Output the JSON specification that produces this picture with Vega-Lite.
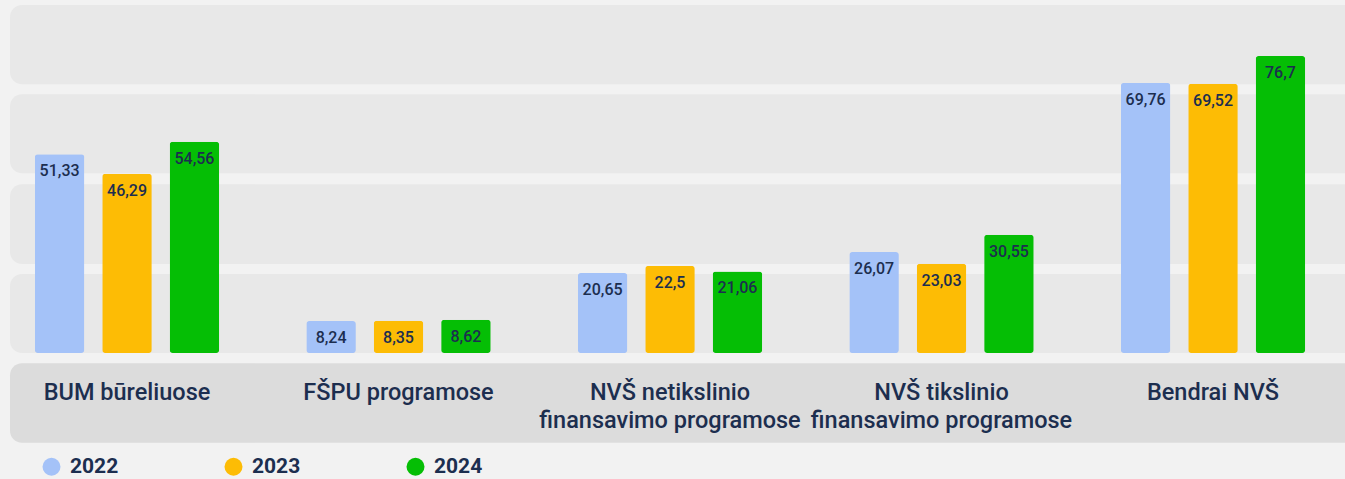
{
  "$schema": "https://vega.github.io/schema/vega-lite/v6.json",
  "width": 1335,
  "height": 479,
  "autosize": "none",
  "padding": {"left": 10, "right": 0, "top": 0, "bottom": 0},
  "background": "#f2f2f2",
  "datasets": {
    "values": [
      {"category": "BUM būreliuose", "year": "2022", "value": 51.33},
      {"category": "BUM būreliuose", "year": "2023", "value": 46.29},
      {"category": "BUM būreliuose", "year": "2024", "value": 54.56},
      {"category": "FŠPU programose", "year": "2022", "value": 8.24},
      {"category": "FŠPU programose", "year": "2023", "value": 8.35},
      {"category": "FŠPU programose", "year": "2024", "value": 8.62},
      {"category": "NVŠ netikslinio\nfinansavimo programose", "year": "2022", "value": 20.65},
      {"category": "NVŠ netikslinio\nfinansavimo programose", "year": "2023", "value": 22.5},
      {"category": "NVŠ netikslinio\nfinansavimo programose", "year": "2024", "value": 21.06},
      {"category": "NVŠ tikslinio\nfinansavimo programose", "year": "2022", "value": 26.07},
      {"category": "NVŠ tikslinio\nfinansavimo programose", "year": "2023", "value": 23.03},
      {"category": "NVŠ tikslinio\nfinansavimo programose", "year": "2024", "value": 30.55},
      {"category": "Bendrai NVŠ", "year": "2022", "value": 69.76},
      {"category": "Bendrai NVŠ", "year": "2023", "value": 69.52},
      {"category": "Bendrai NVŠ", "year": "2024", "value": 76.7}
    ],
    "bands": [
      {"lo": 0, "hi": 20.4},
      {"lo": 23.0, "hi": 43.6},
      {"lo": 46.4, "hi": 66.8},
      {"lo": 69.4, "hi": 89.9}
    ]
  },
  "resolve": {"scale": {"y": "shared"}},
  "layer": [
    {
      "data": {"name": "bands"},
      "mark": {"type": "rect", "color": "#e8e8e8", "cornerRadiusTopLeft": 12, "cornerRadiusBottomLeft": 12},
      "encoding": {
        "y": {"field": "lo", "type": "quantitative", "scale": {"domain": [-32.54, 91.17], "nice": false, "zero": false}, "axis": null},
        "y2": {"field": "hi"}
      }
    },
    {
      "data": {"name": "bands"},
      "mark": {"type": "rect", "color": "#dcdcdc", "cornerRadiusTopLeft": 12, "cornerRadiusBottomLeft": 12},
      "transform": [{"filter": "datum.lo == 0"}],
      "encoding": {
        "y": {"datum": -2.66, "type": "quantitative"},
        "y2": {"datum": -23.17}
      }
    },
    {
      "data": {"name": "values"},
      "mark": {"type": "bar", "cornerRadius": 3},
      "encoding": {
        "x": {"field": "category", "type": "nominal", "sort": null, "axis": null,
              "scale": {"range": [-18.75, 1338.75], "paddingInner": 0, "paddingOuter": 0}},
        "xOffset": {"field": "year", "type": "nominal", "scale": {"paddingInner": 0.265, "paddingOuter": 0.646}},
        "y": {"field": "value", "type": "quantitative"},
        "color": {
          "field": "year", "type": "nominal",
          "scale": {"domain": ["2022", "2023", "2024"], "range": ["#a4c2f8", "#fdbc05", "#05be05"]},
          "legend": {
            "title": null, "orient": "none", "legendX": 31, "legendY": 456, "direction": "horizontal",
            "symbolType": "circle", "symbolSize": 324, "symbolStrokeWidth": 0, "symbolOpacity": 1,
            "labelFont": "Roboto", "labelFontSize": 21, "labelFontWeight": "bold", "labelColor": "#1c2e4f",
            "labelOffset": 8, "columnPadding": 104, "padding": 0
          }
        }
      }
    },
    {
      "data": {"name": "values"},
      "mark": {"type": "text", "font": "Roboto", "fontSize": 16, "fontWeight": 500, "color": "#1c2e4f", "baseline": "alphabetic", "dy": 22},
      "encoding": {
        "x": {"field": "category", "type": "nominal", "sort": null},
        "xOffset": {"field": "year", "type": "nominal"},
        "y": {"field": "value", "type": "quantitative"},
        "text": {"field": "value", "type": "quantitative", "format": "~g"}
      }
    },
    {
      "data": {"name": "values"},
      "transform": [{"filter": "datum.year == '2022'"}],
      "mark": {"type": "text", "font": "Roboto", "fontSize": 23.5, "fontWeight": 500, "color": "#1c2e4f", "baseline": "alphabetic", "lineBreak": "\n", "lineHeight": 28},
      "encoding": {
        "x": {"field": "category", "type": "nominal", "sort": null},
        "y": {"datum": -12.14, "type": "quantitative"},
        "text": {"field": "category", "type": "nominal"}
      }
    }
  ],
  "config": {
    "view": {"stroke": null},
    "locale": {"number": {"decimal": ",", "thousands": " ", "grouping": [3], "currency": ["", " €"]}}
  }
}
